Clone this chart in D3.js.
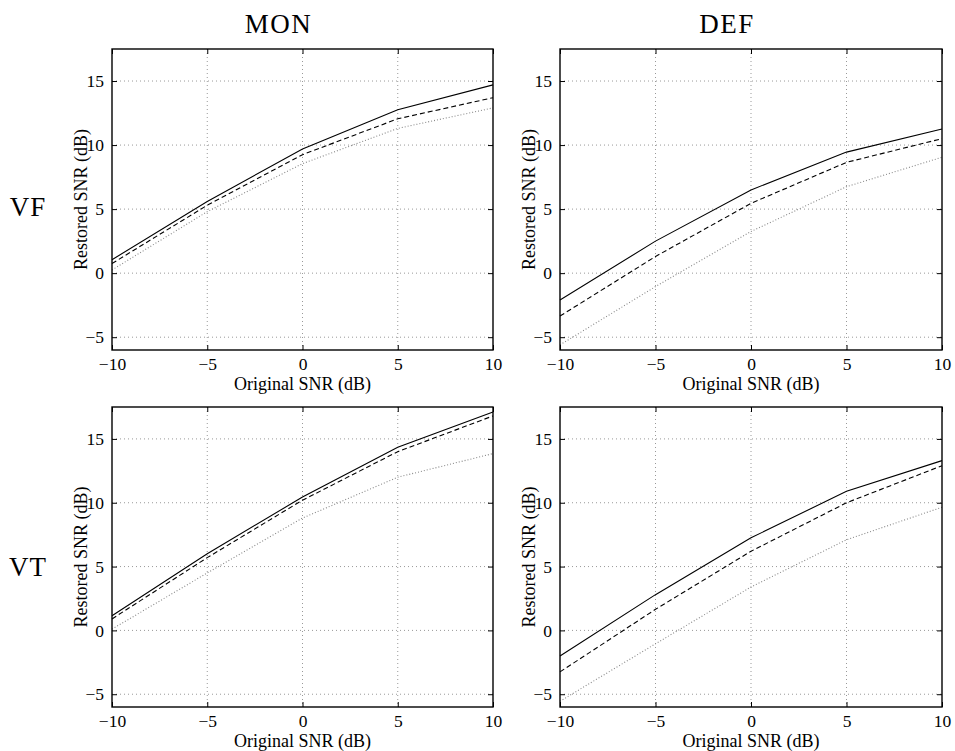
<!DOCTYPE html>
<html>
<head>
<meta charset="utf-8">
<script src="https://cdn.jsdelivr.net/npm/d3@7"></script>
<style>
  html, body { margin: 0; padding: 0; background: #fff; }
  svg { display: block; }
  text { font-family: "Liberation Serif", "Times New Roman", "DejaVu Serif", serif; fill: #000; }
</style>
</head>
<body>
<svg id="chart" width="955" height="751"></svg>
<script>
// Original SNR levels (x) and tick values
const snrIn = [-10, -5, 0, 5, 10];
const xTicks = [-10, -5, 0, 5, 10];
const yTicks = [-5, 0, 5, 10, 15];
const colTitles = ["MON", "DEF"];
const rowTitles = ["VF", "VT"];

// Restored SNR (dB): VF / MON
const vfMonSolid  = [1.05, 5.6, 9.7, 12.75, 14.7];
const vfMonDashed = [0.75, 5.3, 9.25, 12.05, 13.7];
const vfMonDotted = [0.25, 4.8, 8.55, 11.3, 12.9];
// VF / DEF
const vfDefSolid  = [-2.1, 2.5, 6.5, 9.45, 11.25];
const vfDefDashed = [-3.35, 1.3, 5.45, 8.65, 10.5];
const vfDefDotted = [-5.6, -1.05, 3.25, 6.75, 9.05];
// VT / MON
const vtMonSolid  = [1.15, 6.0, 10.45, 14.35, 17.1];
const vtMonDashed = [0.9, 5.7, 10.2, 14.0, 16.8];
const vtMonDotted = [0.1, 4.5, 8.8, 12.0, 13.85];
// VT / DEF
const vtDefSolid  = [-2.0, 2.8, 7.25, 10.9, 13.3];
const vtDefDashed = [-3.25, 1.65, 6.2, 10.0, 12.9];
const vtDefDotted = [-5.55, -1.05, 3.4, 7.1, 9.65];

const panels = [
  { row: 0, col: 0, series: [vfMonSolid, vfMonDashed, vfMonDotted] },
  { row: 0, col: 1, series: [vfDefSolid, vfDefDashed, vfDefDotted] },
  { row: 1, col: 0, series: [vtMonSolid, vtMonDashed, vtMonDotted] },
  { row: 1, col: 1, series: [vtDefSolid, vtDefDashed, vtDefDotted] }
];

// line styles: solid, dashed, dotted (grey)
const styles = [
  { stroke: "#000", dash: null, width: 1.1 },
  { stroke: "#000", dash: "5,3", width: 1.1 },
  { stroke: "#888", dash: "1,2", width: 1.1 }
];

const SERIF = '"Liberation Serif", "Times New Roman", "DejaVu Serif", serif';
const colX = [[112, 493], [560, 942]];
const rowY = [[49, 350], [407, 707]];

const svg = d3.select("#chart");

panels.forEach(p => {
  const [x0, x1] = colX[p.col];
  const [y0, y1] = rowY[p.row];
  const x = d3.scaleLinear().domain([-10, 10]).range([x0, x1]);
  const y = d3.scaleLinear().domain([-6, 17.5]).range([y1, y0]);
  const g = svg.append("g");

  // dotted grid
  g.selectAll("line.gx").data(xTicks.slice(1, -1)).join("line")
    .attr("x1", d => x(d)).attr("x2", d => x(d))
    .attr("y1", y0).attr("y2", y1)
    .attr("stroke", "#999").attr("stroke-width", 1).attr("stroke-dasharray", "1,3");
  g.selectAll("line.gy").data(yTicks).join("line")
    .attr("x1", x0).attr("x2", x1)
    .attr("y1", d => y(d)).attr("y2", d => y(d))
    .attr("stroke", "#999").attr("stroke-width", 1).attr("stroke-dasharray", "1,3");

  // data lines
  const line = d3.line().x((d, i) => x(snrIn[i])).y(d => y(d));
  p.series.forEach((s, k) => {
    const st = styles[k];
    g.append("path").datum(s)
      .attr("d", line)
      .attr("fill", "none")
      .attr("stroke", st.stroke)
      .attr("stroke-width", st.width)
      .attr("stroke-dasharray", st.dash);
  });

  // axes with inward ticks
  const fmt = d => d3.format("")(d);
  const xb = g.append("g").attr("transform", `translate(0,${y1})`)
    .call(d3.axisBottom(x).tickValues(xTicks).tickSize(-5).tickPadding(0).tickFormat(fmt));
  const xt = g.append("g").attr("transform", `translate(0,${y0})`)
    .call(d3.axisTop(x).tickValues(xTicks).tickSize(-5).tickFormat(""));
  const yl = g.append("g").attr("transform", `translate(${x0},0)`)
    .call(d3.axisLeft(y).tickValues(yTicks).tickSize(-5).tickPadding(8).tickFormat(fmt));
  const yr = g.append("g").attr("transform", `translate(${x1},0)`)
    .call(d3.axisRight(y).tickValues(yTicks).tickSize(-5).tickFormat(""));
  [xb, xt, yl, yr].forEach(a => {
    a.attr("font-family", SERIF).attr("font-size", 17.5);
    a.select(".domain").remove();
    a.selectAll(".tick line").attr("stroke", "#000").attr("stroke-width", 1);
    a.selectAll("text").attr("fill", "#000");
  });
  xb.selectAll("text").attr("y", 20).attr("dy", null);

  // frame
  g.append("rect").attr("x", x0).attr("y", y0)
    .attr("width", x1 - x0).attr("height", y1 - y0)
    .attr("fill", "none").attr("stroke", "#000").attr("stroke-width", 1.4);

  // axis titles
  g.append("text").attr("x", (x0 + x1) / 2).attr("y", y1 + 40)
    .attr("text-anchor", "middle").attr("font-family", SERIF).attr("font-size", 18)
    .text("Original SNR (dB)");
  g.append("text")
    .attr("transform", `translate(${x0 - 25},${(y0 + y1) / 2}) rotate(-90)`)
    .attr("text-anchor", "middle").attr("font-family", SERIF).attr("font-size", 18)
    .text("Restored SNR (dB)");
});

// column titles
svg.selectAll("text.coltitle").data(colTitles).join("text")
  .attr("class", "coltitle")
  .attr("x", (d, i) => (colX[i][0] + colX[i][1]) / 2 - 24)
  .attr("y", 33)
  .attr("text-anchor", "middle")
  .attr("font-family", SERIF)
  .style("font-size", "27px").style("letter-spacing", "1.5px")
  .text(d => d);

// row titles
svg.selectAll("text.rowtitle").data(rowTitles).join("text")
  .attr("class", "rowtitle")
  .attr("x", 28)
  .attr("y", (d, i) => [216, 576][i])
  .attr("text-anchor", "middle")
  .attr("font-family", SERIF)
  .style("font-size", "27px").style("letter-spacing", "1px")
  .text(d => d);
</script>
</body>
</html>
